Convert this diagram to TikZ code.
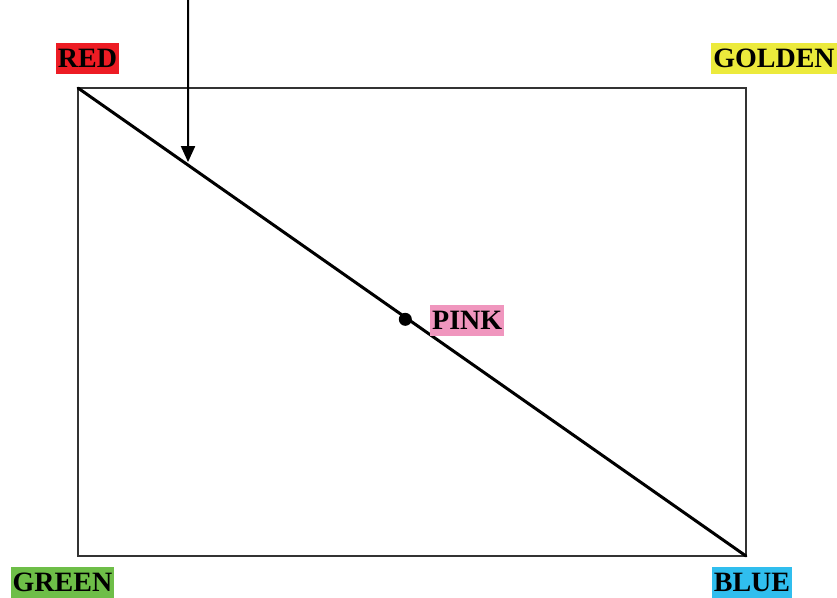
\documentclass[tikz,border=0pt]{standalone}
\usepackage{fontspec}
\setmainfont{Liberation Serif}
\usepackage{tikz}
\usetikzlibrary{arrows.meta,positioning,calc}
\definecolor{tagred}   {RGB}{237,28,36}
\definecolor{taggold}  {RGB}{236,234,60}
\definecolor{taggreen} {RGB}{110,190,72}
\definecolor{tagblue}  {RGB}{48,190,238}
\definecolor{tagpink}  {RGB}{240,150,190}
\tikzset{
  tag/.style   ={inner xsep=2pt, inner ysep=0pt, minimum height=31pt,
                 text height=19pt, text depth=0pt,
                 font=\fontsize{28}{30}\selectfont\bfseries},
  frame/.style ={draw=black!80, line width=1.2pt},
  diag/.style  ={draw=black, line width=3pt, line cap=round},
  arr/.style   ={-{Triangle[length=16pt,width=14pt]}, line width=2pt},
  dot/.style   ={circle, fill=black, inner sep=0pt, minimum size=13pt},
}

\begin{document}
\begin{tikzpicture}[x=1pt,y=-1pt]
  \useasboundingbox (0,0) rectangle (837,597);

  % corners of the field
  \coordinate (tl) at (78,88);
  \coordinate (br) at (746,556);
  \draw[frame] (tl) rectangle (br);
  \draw[diag] (tl) -- (br);

  % labels
  \node[tag, fill=tagred]   (red)    at (87.5,58)  {RED};
  \node[tag, fill=taggold]  (golden) at (774,58)   {GOLDEN};
  \node[tag, fill=taggreen] (green)  at (62.5,582) {GREEN};
  \node[tag, fill=tagblue]  (blue)   at (752,582)  {BLUE};

  \node[dot] (pinkdot) at ($(tl)!0.49!(br)+(0,2)$) {};
  \node[tag, fill=tagpink, right=18pt of pinkdot, yshift=-1pt] (pink) {PINK};

  % incoming ray
  \coordinate (src) at (188,0);
  \coordinate (hit) at ($(tl)!0.1647!(br)$);
  \draw[arr, shorten >=3pt] (src) -- (hit);
\end{tikzpicture}
\end{document}
